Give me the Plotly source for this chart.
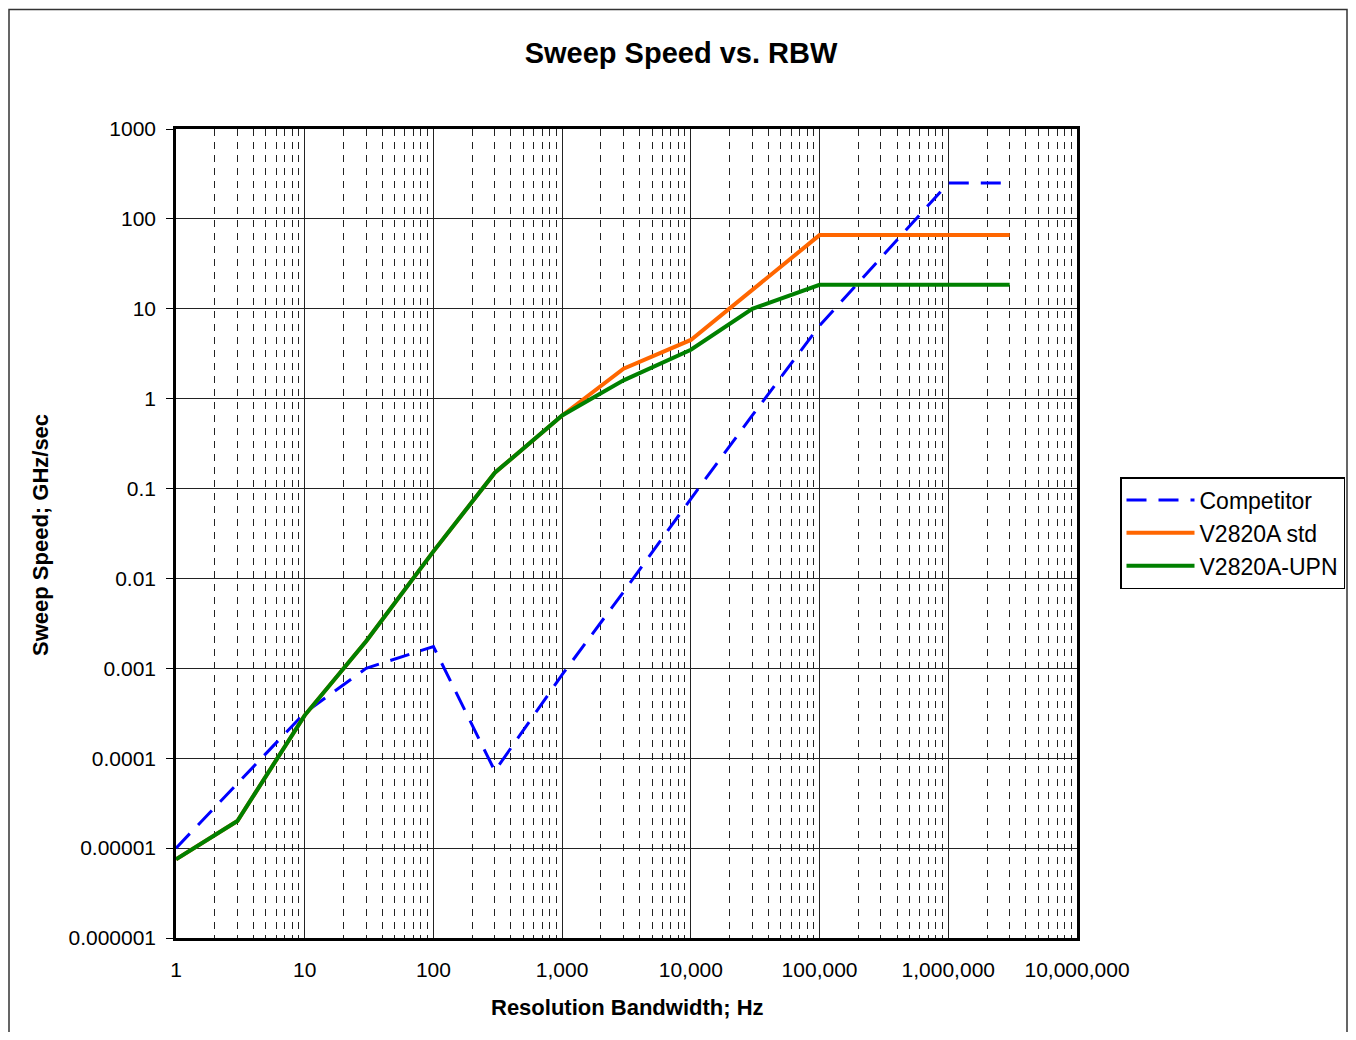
import plotly.graph_objects as go

# ---- data ----
rbw_hz = [1, 3, 10, 30, 100, 300, 1000, 3000, 10000, 30000, 100000, 300000, 1000000, 3000000]
competitor = [1e-5, 5.2e-5, 3.2e-4, 1.0e-3, 1.75e-3, 7.2e-5, 8.5e-4, 7.1e-3, 0.077, 0.65, 6.5, 37, 250, 250]
v2820a_std = [7.5e-6, 2e-5, 3e-4, 2e-3, 0.02, 0.15, 0.65, 2.15, 4.5, 16, 66, 66, 66, 66]
v2820a_upn = [7.5e-6, 2e-5, 3e-4, 2e-3, 0.02, 0.15, 0.65, 1.6, 3.5, 10, 18.5, 18.5, 18.5, 18.5]

x_tickvals = [1, 10, 100, 1000, 10000, 100000, 1000000, 10000000]
x_ticktext = ["1", "10", "100", "1,000", "10,000", "100,000", "1,000,000", "10,000,000"]
y_tickvals = [1e-6, 1e-5, 1e-4, 1e-3, 1e-2, 1e-1, 1, 10, 100, 1000]
y_ticktext = ["0.000001", "0.00001", "0.0001", "0.001", "0.01", "0.1", "1", "10", "100", "1000"]

FONT = "Liberation Sans, Arial, sans-serif"

fig = go.Figure()
fig.add_trace(go.Scatter(x=rbw_hz, y=competitor, mode="lines", name="Competitor",
                         line=dict(color="#0000FF", width=3, dash="20px,12px")))
fig.add_trace(go.Scatter(x=rbw_hz, y=v2820a_std, mode="lines", name="V2820A std",
                         line=dict(color="#FF6600", width=4)))
fig.add_trace(go.Scatter(x=rbw_hz, y=v2820a_upn, mode="lines", name="V2820A-UPN",
                         line=dict(color="#008000", width=4)))

# page body has an 8px margin: work in reference coords minus the offset,
# keeping the page inside the viewport
O = 8
W, H = 1340, 1024
L, R, T, B = 176 - O, 1077 - O, 129 - O, 938 - O
pw, ph = R - L, B - T

def px(xp):
    return (xp - O - L) / pw

def py(yp):
    return (B - (yp - O)) / ph

fig.update_layout(
    width=W, height=H,
    margin=dict(l=L, r=W - R, t=T, b=H - B, autoexpand=False),
    paper_bgcolor="white", plot_bgcolor="white",
    font=dict(family=FONT, color="black", size=21),
    title=dict(text="<b>Sweep Speed vs. RBW</b>", x=(681 - O) / W, xref="container", xanchor="center",
               y=1 - (53 - O) / H, yref="container", yanchor="middle",
               font=dict(size=29, family=FONT, color="black")),
    showlegend=True,
    legend=dict(x=px(1120), y=py(477), xanchor="left", yanchor="top",
                bordercolor="black", borderwidth=1.5, bgcolor="white",
                font=dict(size=23, family=FONT, color="black"),
                itemwidth=68, tracegroupgap=0),
    xaxis=dict(type="log", range=[0, 7], tickvals=x_tickvals, ticktext=x_ticktext,
               showgrid=True, gridcolor="#222", gridwidth=1,
               minor=dict(dtick="D1", showgrid=True, gridcolor="#222", gridwidth=1,
                          griddash="7px,6px", ticks=""),
               showline=True, linecolor="black", linewidth=2.5, mirror=True,
               ticks="", ticklabelstandoff=11, zeroline=False,
               tickfont=dict(size=21, family=FONT)),
    yaxis=dict(type="log", range=[-6, 3], tickvals=y_tickvals, ticktext=y_ticktext,
               showgrid=True, gridcolor="#222", gridwidth=1,
               showline=True, linecolor="black", linewidth=2.5, mirror=True,
               ticks="outside", ticklen=7, tickcolor="black", ticklabelstandoff=6,
               zeroline=False, tickfont=dict(size=21, family=FONT)),
)

fig.add_annotation(text="<b>Resolution Bandwidth; Hz</b>", x=px(627), y=py(1007),
                   xref="paper", yref="paper", showarrow=False,
                   xanchor="center", yanchor="middle",
                   font=dict(size=22, family=FONT, color="black"))
fig.add_annotation(text="<b>Sweep Speed; GHz/sec</b>", x=px(40), y=py(535),
                   xref="paper", yref="paper", showarrow=False, textangle=-90,
                   xanchor="center", yanchor="middle",
                   font=dict(size=22, family=FONT, color="black"))

# outer chart frame (kept just inside the figure)
fig.add_shape(type="rect", xref="paper", yref="paper",
              x0=px(9), x1=px(1347), y0=py(1060), y1=py(9.5),
              line=dict(color="#333", width=1.5), fillcolor="rgba(0,0,0,0)", layer="below")

fig.write_html("out.html")
